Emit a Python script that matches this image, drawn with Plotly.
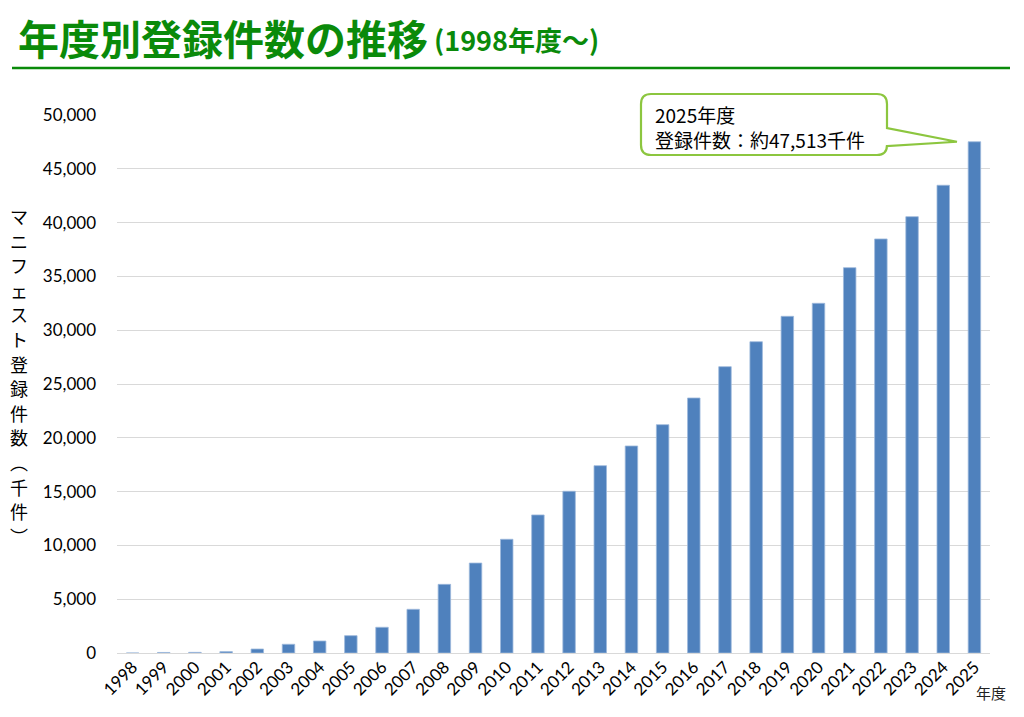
import plotly.graph_objects as go

# 年度別マニフェスト登録件数（千件）
years = [str(y) for y in range(1998, 2026)]
counts = [0, 50, 60, 130, 370, 810, 1115, 1610, 2390, 4060, 6380, 8360,
          10570, 12830, 15030, 17410, 19240, 21220, 23700, 26610, 28930,
          31290, 32500, 35810, 38480, 40550, 43470, 47513]
y_ticks = list(range(0, 50001, 5000))
y_title = "マニフェスト登録件数︵千件︶"

GREEN = "#0A8A0A"
BLUE = "#4F81BD"
LIME = "#8CC63F"
JP = "Noto Sans CJK JP"

fig = go.Figure()
fig.add_trace(go.Bar(x=years, y=counts, width=0.4,
                     marker=dict(color=BLUE, line=dict(color="#9DB9DC", width=0.8))))

# plot area in page pixels (page has an 8px body margin): l=117, r=990, top=115, bottom=653
W, H = 873, 538
def px(xp):
    return (xp - 117) / W
def py(yp):
    return (653 - yp) / H

# callout box with tail pointing at the last bar
tip_x = (len(years) - 0.5) / len(years) - 0.02
tip_y = counts[-1] / y_ticks[-1]
x0, x1, y0, y1 = px(641), px(887), py(155), py(94)
rx, ry = 10 / W, 10 / H
path = (f"M {x0+rx},{y1} L {x1-rx},{y1} Q {x1},{y1} {x1},{y1-ry} "
        f"L {x1},{py(128)} L {tip_x},{tip_y} L {x1},{py(146)} "
        f"L {x1},{y0+ry} Q {x1},{y0} {x1-rx},{y0} L {x0+rx},{y0} "
        f"Q {x0},{y0} {x0},{y0+ry} L {x0},{y1-ry} Q {x0},{y1} {x0+rx},{y1} Z")
fig.add_shape(type="path", path=path, xref="paper", yref="paper",
              line=dict(color=LIME, width=2.2), fillcolor="white", layer="above")
callout = [f"{years[-1]}年度", f"登録件数：約{counts[-1]:,}千件"]
for i, line in enumerate(callout):
    fig.add_annotation(xref="paper", yref="paper", x=px(653), y=py(114 + 25 * i),
                       xanchor="left", yanchor="middle", showarrow=False, text=line,
                       font=dict(family=JP, size=19, color="black"))

# title
fig.add_annotation(xref="paper", yref="paper", x=px(16), y=py(37), xanchor="left",
                   yanchor="middle", showarrow=False, text="<b>年度別登録件数の推移</b>",
                   font=dict(family=JP, size=41, color=GREEN))
fig.add_annotation(xref="paper", yref="paper", x=px(432), y=py(39), xanchor="left",
                   yanchor="middle", showarrow=False, text="<b>(1998年度～)</b>",
                   font=dict(family=JP, size=27, color=GREEN))
fig.add_shape(type="line", xref="paper", yref="paper", x0=px(12), x1=px(1010),
              y0=py(68), y1=py(68), line=dict(color=GREEN, width=2.5))

# vertical axis title, one character per row
for i, ch in enumerate(y_title):
    fig.add_annotation(xref="paper", yref="paper", x=px(19), y=py(216 + 24.6 * i),
                       showarrow=False, text=ch, xanchor="center", yanchor="middle",
                       font=dict(family=JP, size=18, color="black"))
fig.add_annotation(xref="paper", yref="paper", x=px(974), y=py(692), xanchor="left",
                   yanchor="middle", showarrow=False, text="年度",
                   font=dict(family=JP, size=15, color="#222"))

fig.update_layout(
    width=1024, height=717, plot_bgcolor="white", paper_bgcolor="white",
    margin=dict(l=109, r=42, t=107, b=72), showlegend=False,
    font=dict(family="Lato, " + JP, color="black"),
)
fig.update_xaxes(type="category", tickangle=-45, tickfont=dict(size=17),
                 showgrid=False, showline=False, ticks="")
fig.update_yaxes(range=[0, y_ticks[-1]], tickvals=y_ticks, tickformat=",",
                 tickfont=dict(size=17), gridcolor="#D9D9D9", gridwidth=1,
                 zeroline=True, zerolinecolor="#D9D9D9", zerolinewidth=1,
                 showline=False, ticklabelstandoff=20)

fig.write_html("out.html")
